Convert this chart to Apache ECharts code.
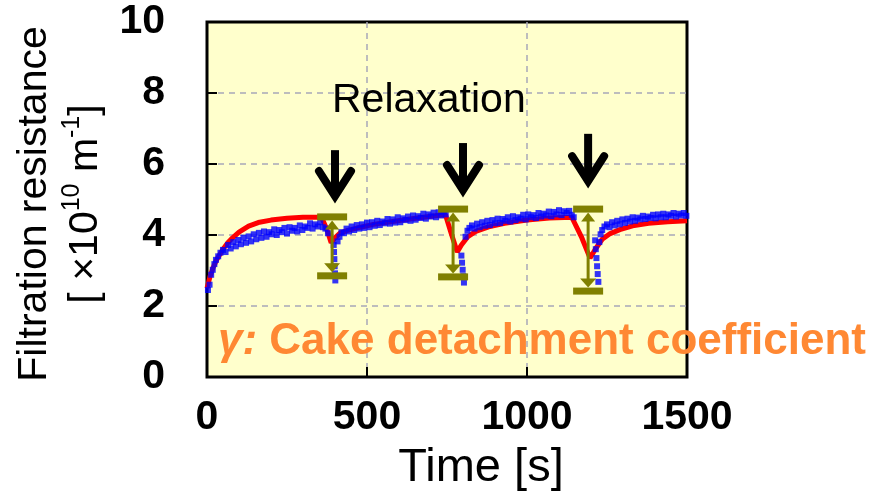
<!DOCTYPE html>
<html><head><meta charset="utf-8">
<script src="https://cdn.jsdelivr.net/npm/echarts@6/dist/echarts.min.js"></script>
<style>html,body{margin:0;padding:0;background:#fff}#c{width:870px;height:501px}</style>
</head><body><div id="c"></div>
<script>
const xTickLabels = [0, 500, 1000, 1500];
const yTickLabels = [0, 2, 4, 6, 8, 10];

// model (red line)
const modelTime  = [0, 10, 20, 30, 40, 50, 65, 80, 100, 130, 160, 200, 250, 300, 358, 375, 388, 400, 415, 440, 480, 520, 580, 640, 700, 745, 763, 782, 795, 815, 840, 880, 930, 1000, 1070, 1140, 1170, 1197, 1215, 1235, 1260, 1290, 1330, 1380, 1440, 1500];
const modelValue = [2.5, 2.85, 3.1, 3.3, 3.45, 3.6, 3.78, 3.92, 4.08, 4.25, 4.35, 4.42, 4.47, 4.5, 4.5, 4.15, 3.78, 3.92, 4.05, 4.13, 4.22, 4.3, 4.38, 4.46, 4.53, 4.58, 4.05, 3.52, 3.72, 3.95, 4.1, 4.23, 4.33, 4.42, 4.48, 4.5, 3.95, 3.35, 3.62, 3.88, 4.04, 4.15, 4.26, 4.33, 4.37, 4.4];

// measured (blue squares)
const measTime = [3, 8, 13, 18, 23, 28, 35, 42, 50, 58, 66, 74, 82, 90, 98, 106, 114, 122, 130, 138, 146, 154, 162, 170, 178, 186, 194, 202, 210, 218, 226, 234, 242, 250, 258, 266, 274, 282, 290, 298, 306, 314, 322, 330, 338, 346, 354, 362, 370, 378,
  396, 397, 398, 399, 400, 401,
  408, 414, 420, 428, 436, 444, 452, 460, 468, 476, 484, 492, 500, 508, 516, 524, 532, 540, 548, 556, 564, 572, 580, 588, 596, 604, 612, 620, 628, 636, 644, 652, 660, 668, 676, 684, 692, 700, 708, 716, 724, 732, 740, 746,
  795, 797, 799, 801, 803,
  808, 814, 820, 828, 836, 844, 852, 860, 868, 876, 884, 892, 900, 908, 916, 924, 932, 940, 948, 956, 964, 972, 980, 988, 996, 1004, 1012, 1020, 1028, 1036, 1044, 1052, 1060, 1068, 1076, 1084, 1092, 1100, 1108, 1116, 1124, 1132, 1140, 1146,
  1213, 1215, 1217, 1219, 1221, 1223,
  1226, 1230, 1235, 1242, 1250, 1258, 1266, 1274, 1282, 1290, 1298, 1306, 1314, 1322, 1330, 1338, 1346, 1354, 1362, 1370, 1378, 1386, 1394, 1402, 1410, 1418, 1426, 1434, 1442, 1450, 1458, 1466, 1474, 1482, 1490, 1498];
const measValue = [2.45, 2.6, 2.88, 3.02, 3.18, 3.3, 3.4, 3.5, 3.58, 3.52, 3.72, 3.62, 3.8, 3.68, 3.86, 3.74, 3.92, 3.78, 3.96, 3.82, 4.02, 3.88, 4.06, 3.92, 4.1, 3.95, 4.08, 4.02, 4.16, 4.0, 4.14, 4.08, 4.2, 4.04, 4.22, 4.12, 4.2, 4.1, 4.27, 4.14, 4.24, 4.2, 4.33, 4.18, 4.3, 4.24, 4.36, 4.22, 4.18, 4.05,
  3.72, 3.52, 3.32, 3.12, 2.92, 2.72,
  3.82, 3.95, 4.08, 4.05, 4.18, 4.1, 4.24, 4.14, 4.28, 4.18, 4.3, 4.2, 4.35, 4.22, 4.36, 4.26, 4.4, 4.28, 4.38, 4.33, 4.45, 4.32, 4.44, 4.35, 4.5, 4.36, 4.47, 4.42, 4.52, 4.4, 4.55, 4.43, 4.53, 4.48, 4.6, 4.46, 4.58, 4.52, 4.63, 4.5, 4.64, 4.55, 4.66, 4.58,
  3.42, 3.22, 3.02, 2.84, 2.66,
  3.95, 4.12, 4.2, 4.27, 4.18, 4.32, 4.22, 4.36, 4.26, 4.4, 4.28, 4.42, 4.33, 4.46, 4.34, 4.45, 4.4, 4.5, 4.38, 4.53, 4.42, 4.5, 4.46, 4.57, 4.44, 4.58, 4.5, 4.56, 4.48, 4.62, 4.52, 4.6, 4.55, 4.66, 4.53, 4.65, 4.58, 4.7, 4.56, 4.67, 4.62, 4.68, 4.57, 4.5,
  3.85, 3.6, 3.35, 3.12, 2.9, 2.68,
  3.8, 4.02, 4.14, 4.24, 4.3, 4.22, 4.36, 4.27, 4.4, 4.3, 4.44, 4.34, 4.46, 4.38, 4.5, 4.4, 4.49, 4.44, 4.54, 4.45, 4.52, 4.48, 4.57, 4.47, 4.58, 4.5, 4.6, 4.5, 4.58, 4.54, 4.62, 4.52, 4.6, 4.55, 4.62, 4.54];

// relaxation arrows
const arrowTime = [400, 800, 1191];
const arrowTop  = [6.39, 6.59, 6.85];
const arrowTip  = [4.9, 5.07, 5.32];

// cake detachment range bars
const gammaTime = [391, 769, 1191];
const gammaHigh = [4.51, 4.73, 4.73];
const gammaLow  = [2.85, 2.82, 2.42];

const FONT = '"Liberation Sans", Arial, Helvetica, sans-serif';
const OLIVE = '#808000';

function renderGamma(params, api) {
  const p1 = api.coord([api.value(0), api.value(1)]);
  const p2 = api.coord([api.value(0), api.value(2)]);
  const x = p1[0], capW = 30, capH = 7;
  return {type: 'group', children: [
    {type: 'rect', shape: {x: x - capW / 2, y: p1[1] - capH / 2, width: capW, height: capH}, style: {fill: OLIVE}},
    {type: 'rect', shape: {x: x - capW / 2, y: p2[1] - capH / 2, width: capW, height: capH}, style: {fill: OLIVE}},
    {type: 'line', shape: {x1: x, y1: p1[1] + capH / 2 + 4, x2: x, y2: p2[1] - capH / 2 - 4}, style: {stroke: OLIVE, lineWidth: 3}},
    {type: 'polygon', shape: {points: [[x, p1[1] + capH / 2], [x - 7, p1[1] + capH / 2 + 9], [x + 7, p1[1] + capH / 2 + 9]]}, style: {fill: OLIVE}},
    {type: 'polygon', shape: {points: [[x, p2[1] - capH / 2], [x - 8, p2[1] - capH / 2 - 9], [x + 8, p2[1] - capH / 2 - 9]]}, style: {fill: OLIVE}}
  ]};
}

function renderArrow(params, api) {
  const p1 = api.coord([api.value(0), api.value(1)]);
  const p2 = api.coord([api.value(0), api.value(2)]);
  const x = p1[0], tipY = p2[1] - 7;
  return {type: 'group', children: [
    {type: 'line', shape: {x1: x, y1: p1[1], x2: x, y2: tipY}, style: {stroke: '#000', lineWidth: 8}},
    {type: 'polyline', shape: {points: [[x - 16, tipY - 25], [x, tipY], [x + 16, tipY - 25]]}, style: {stroke: '#000', fill: 'none', lineWidth: 8, lineJoin: 'miter', lineCap: 'round'}}
  ]};
}

const chart = echarts.init(document.getElementById('c'), null, {renderer: 'canvas'});
chart.setOption({
  animation: false,
  backgroundColor: '#ffffff',
  grid: {left: 207, right: 183, top: 22, bottom: 124, show: true, backgroundColor: '#FFFFCC', borderColor: '#000', borderWidth: 3, containLabel: false, outerBoundsMode: 'none'},
  xAxis: {
    type: 'value', min: xTickLabels[0], max: xTickLabels[xTickLabels.length - 1], interval: 500,
    axisLine: {show: false},
    axisTick: {show: true, inside: true, length: 10, lineStyle: {color: '#000', width: 2}},
    splitLine: {show: true, showMinLine: false, showMaxLine: false, lineStyle: {color: '#A8A8B8', width: 1.5, type: [6, 5]}},
    axisLabel: {color: '#000', fontFamily: FONT, fontWeight: 'bold', fontSize: 41, margin: 20, formatter: v => String(v)},
    name: 'Time [s]', nameLocation: 'middle', nameGap: 68, nameMoveOverlap: false,
    nameTextStyle: {color: '#000', fontFamily: FONT, fontSize: 47, padding: [0, 0, 0, 68]}
  },
  yAxis: {
    type: 'value', min: yTickLabels[0], max: yTickLabels[yTickLabels.length - 1], interval: 2,
    axisLine: {show: false},
    axisTick: {show: true, inside: true, length: 10, lineStyle: {color: '#000', width: 2}},
    splitLine: {show: true, showMinLine: false, showMaxLine: false, lineStyle: {color: '#A8A8B8', width: 1.5, type: [6, 5]}},
    axisLabel: {color: '#000', fontFamily: FONT, fontWeight: 'bold', fontSize: 41, margin: 42, formatter: v => String(v)},
    name: 'Filtration resistance\n{b|[ ×10}{s|10}{b| m}{s|-1}{b|]}',
    nameLocation: 'middle', nameRotate: 90, nameGap: 96, nameMoveOverlap: false,
    nameTextStyle: {color: '#000', fontFamily: FONT, fontSize: 41, lineHeight: 51, padding: [0, 9, 0, 0],
      rich: {
        b: {color: '#000', fontFamily: FONT, fontSize: 41, lineHeight: 51},
        s: {color: '#000', fontFamily: FONT, fontSize: 25, lineHeight: 28, verticalAlign: 'top'}
      }}
  },
  series: [
    {type: 'line', data: modelTime.map((t, i) => [t, modelValue[i]]), showSymbol: false, symbol: 'none',
      lineStyle: {color: '#FF0000', width: 5}, z: 2, silent: true},
    {type: 'scatter', data: measTime.map((t, i) => [t, measValue[i]]), symbol: 'rect', symbolSize: 6,
      itemStyle: {color: '#0000FF'}, z: 3, silent: true},
    {type: 'custom', renderItem: renderGamma, data: gammaTime.map((t, i) => [t, gammaHigh[i], gammaLow[i]]),
      encode: {x: 0, y: [1, 2]}, z: 4, silent: true},
    {type: 'custom', renderItem: renderArrow, data: arrowTime.map((t, i) => [t, arrowTop[i], arrowTip[i]]),
      encode: {x: 0, y: [1, 2]}, z: 5, silent: true}
  ],
  graphic: [
    {type: 'text', x: 332, y: 101, z: 10, style: {text: 'Relaxation', fill: '#000', fontFamily: FONT, fontSize: 41, align: 'left', verticalAlign: 'middle'}},
    {type: 'text', x: 218, y: 342, z: 10, style: {
      text: '{i|γ:}{b| Cake detachment coefficient}', align: 'left', verticalAlign: 'middle',
      rich: {
        i: {fill: '#FF8833', fontFamily: FONT, fontSize: 44, fontWeight: 'bold', fontStyle: 'italic'},
        b: {fill: '#FF8833', fontFamily: FONT, fontSize: 44, fontWeight: 'bold'}
      }}}
  ]
});
</script></body></html>
